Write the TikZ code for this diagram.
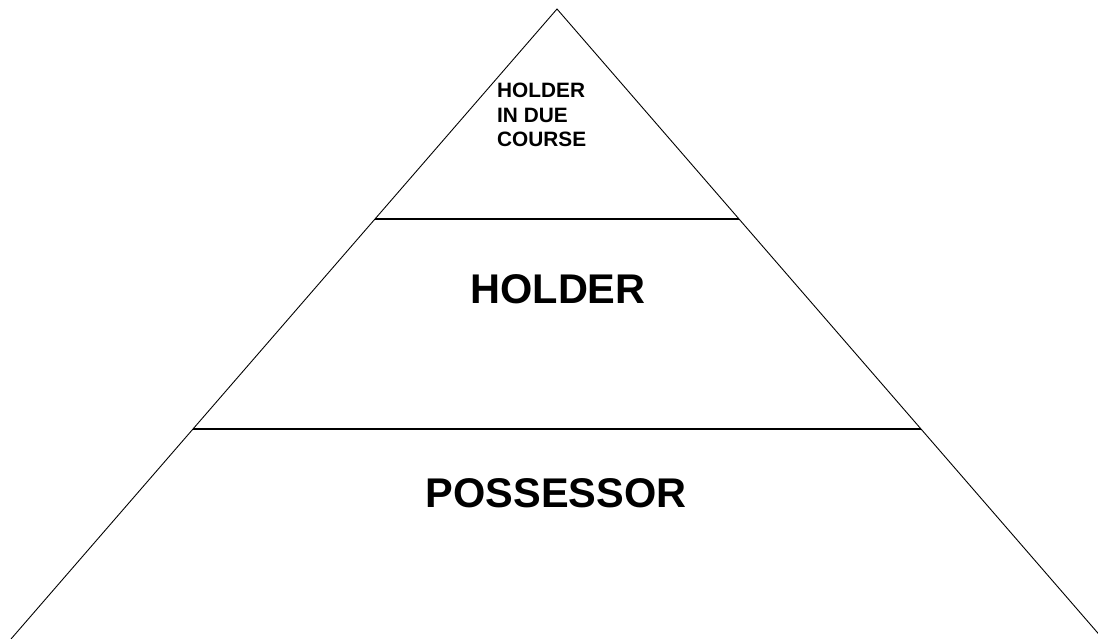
\documentclass[tikz,border=0pt]{standalone}
\usepackage{fontspec}
\setmainfont{Liberation Sans}
\begin{document}
\begin{tikzpicture}[x=1pt,y=-1pt,
  side/.style={draw=black,line width=0.9pt},
  tier/.style={draw=black,line width=1.5pt},
  bigtxt/.style={font=\fontsize{41.5}{48}\selectfont\bfseries,anchor=base,inner sep=0pt},
  smalltxt/.style={font=\fontsize{20.8}{24.5}\selectfont\bfseries,anchor=base west,inner sep=0pt}]
\useasboundingbox (0,0) rectangle (1098,639);
\clip (0,0) rectangle (1098,639);
\coordinate (apex) at (557,9);
\coordinate (bl) at (11,639);
\coordinate (br) at (1103,639);
\coordinate (l1) at (375,219);
\coordinate (r1) at (739,219);
\coordinate (l2) at (193,429);
\coordinate (r2) at (921,429);
\draw[side] (bl) -- (apex) -- (br);
\draw[tier] (l1) -- (r1);
\draw[tier] (l2) -- (r2);
\node[smalltxt] (hdc1) at (497,98) {HOLDER};
\node[smalltxt] (hdc2) at (497,122.5) {IN DUE};
\node[smalltxt] (hdc3) at (497,147) {COURSE};
\node[bigtxt] (holder) at (558,303) {HOLDER};
\node[bigtxt] (poss) at (556,507) {POSSESSOR};
\end{tikzpicture}
\end{document}
